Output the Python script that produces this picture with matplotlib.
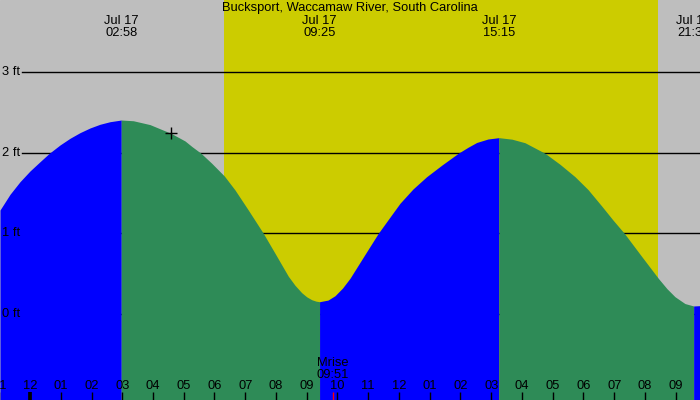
import matplotlib
matplotlib.use("Agg")
import matplotlib.pyplot as plt
import matplotlib.transforms as mtransforms

# ---- data (hours after midnight Jul 17, feet) ----
tide_hours = [-0.976, -0.650, -0.325, 0.0, 0.325, 0.628, 0.976, 1.301, 1.626, 1.951,
              2.276, 2.602, 2.967,
              3.359, 3.902, 4.585, 5.041, 5.268, 5.561, 5.909, 6.319, 6.667, 7.099, 7.587,
              7.967, 8.400, 8.618, 8.836, 8.998, 9.161, 9.301, 9.417,
              9.691, 9.919, 10.163, 10.407, 10.862, 11.327, 11.675, 12.033, 12.455, 12.900,
              13.398, 13.928, 14.244, 14.527, 14.894, 15.25,
              15.675, 16.098, 16.748, 17.236, 17.724, 18.146, 18.592, 18.959, 19.327,
              19.870, 20.433, 20.715, 20.976, 21.301, 21.583,
              21.79]
tide_feet = [1.289, 1.484, 1.641, 1.774, 1.889, 1.994, 2.097, 2.180, 2.250, 2.308,
             2.354, 2.386, 2.407,
             2.398, 2.350, 2.242, 2.147, 2.077, 1.994, 1.870, 1.712, 1.538, 1.289, 1.000,
             0.752, 0.467, 0.354, 0.262, 0.211, 0.175, 0.157, 0.150,
             0.170, 0.224, 0.319, 0.441, 0.718, 1.000, 1.184, 1.373, 1.550, 1.703,
             1.848, 1.994, 2.068, 2.128, 2.171, 2.188,
             2.169, 2.125, 1.994, 1.857, 1.703, 1.544, 1.339, 1.165, 1.000,
             0.724, 0.441, 0.312, 0.212, 0.127, 0.097,
             0.101]

event_hours = [2.967, 9.417, 15.25, 21.583]
event_labels = ["Jul 17\n02:58", "Jul 17\n09:25", "Jul 17\n15:15", "Jul 17\n21:35"]
event_kinds = ["high", "low", "high", "low"]

sunrise_hour = 6.32
sunset_hour = 20.42
moonrise_hour = 9.85
moonrise_label = "Mrise\n09:51"
now_hour = 4.585
now_feet = 2.242

hour_ticks = list(range(-1, 22))
hour_tick_labels = ["11", "12", "01", "02", "03", "04", "05", "06", "07", "08", "09", "10",
                    "11", "12", "01", "02", "03", "04", "05", "06", "07", "08", "09"]
ft_levels = [0, 1, 2, 3]
ft_labels = ["0 ft", "1 ft", "2 ft", "3 ft"]

title = "Bucksport, Waccamaw River, South Carolina"

# ---- style ----
GRAY = "#bebebe"
YELLOW = "#cccc00"
BLUE = "#0000ff"
GREEN = "#2e8b57"
FONT = "Liberation Sans"
FS = 9.3

fig = plt.figure(figsize=(7, 4), dpi=100)
ax = fig.add_axes([0, 0, 1, 1])
ax.set_axis_off()
x0, x1 = -0.976, 21.79
y0, y1 = -1.071, 3.898
ax.set_xlim(x0, x1)
ax.set_ylim(y0, y1)

# background
ax.add_patch(plt.Rectangle((0, 0), 1, 1, transform=ax.transAxes, color=GRAY, zorder=0))
ax.axvspan(sunrise_hour, sunset_hour, color=YELLOW, zorder=1, lw=0)

# level lines
for lv in ft_levels:
    ax.axhline(lv, xmin=22 / 700, xmax=1, color="black", lw=1.0, zorder=2)

# fills between extremes
bounds = [x0] + event_hours + [x1]
for i in range(len(bounds) - 1):
    a, b = bounds[i], bounds[i + 1]
    xs = [t for t in tide_hours if a - 1e-9 <= t <= b + 1e-9]
    ys = [f for t, f in zip(tide_hours, tide_feet) if a - 1e-9 <= t <= b + 1e-9]
    if i < len(event_kinds):
        rising = event_kinds[i] == "high"
    else:
        rising = event_kinds[-1] == "low"
    ax.fill_between(xs, ys, y0, color=BLUE if rising else GREEN, lw=0, zorder=3)

# level labels
tr_left = mtransforms.blended_transform_factory(ax.transAxes, ax.transData)
for lv, lab in zip(ft_levels, ft_labels):
    ax.text(2 / 700, lv, lab, transform=tr_left, ha="left", va="center",
            fontsize=FS, family=FONT, zorder=5)

# current position marker
ax.plot([now_hour], [now_feet], marker="+", color="black", ms=9, mew=1.0, zorder=6)

# title and event labels
ax.text(0.5, 1 - 8 / 400, title, transform=ax.transAxes, ha="center", va="center",
        fontsize=FS, family=FONT, zorder=6)
tr_top = mtransforms.blended_transform_factory(ax.transData, ax.transAxes)
for h, lab in zip(event_hours, event_labels):
    ax.text(h, 1 - 27.5 / 400, lab, transform=tr_top, ha="center", va="center",
            fontsize=FS, family=FONT, linespacing=1.0, zorder=6, clip_on=True)

# hour ticks
for h, lab in zip(hour_ticks, hour_tick_labels):
    lw = 2.7 if h == 0 else 1.0
    ax.plot([h, h], [0, 8 / 400], transform=tr_top, color="black", lw=lw, zorder=6,
            solid_capstyle="butt")
    ax.text(h, 14 / 400, lab, transform=tr_top, ha="center", va="center",
            fontsize=FS, family=FONT, zorder=6, clip_on=True)

# moonrise
ax.plot([moonrise_hour, moonrise_hour], [0, 8 / 400], transform=tr_top, color="red", lw=1.0,
        zorder=6, solid_capstyle="butt")
ax.text(moonrise_hour, 1 - 369.5 / 400, moonrise_label, transform=tr_top, ha="center",
        va="center", fontsize=FS, family=FONT, linespacing=1.0, zorder=6)

fig.savefig("out.png", dpi=100)
